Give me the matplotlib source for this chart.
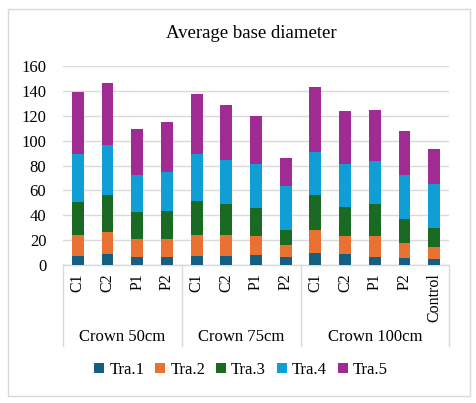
import matplotlib
matplotlib.use("Agg")
import matplotlib.pyplot as plt
import numpy as np
from matplotlib.patches import Rectangle
from matplotlib.lines import Line2D

plt.rcParams['font.family'] = ['Liberation Serif', 'DejaVu Serif']

categories = ["C1", "C2", "P1", "P2", "C1", "C2", "P1", "P2", "C1", "C2", "P1", "P2", "Control"]
groups = ["Crown 50cm", "Crown 75cm", "Crown 100cm"]
group_sizes = [4, 4, 5]
series_names = ["Tra.1", "Tra.2", "Tra.3", "Tra.4", "Tra.5"]
tra1 = [7.2, 8.8, 6.4, 6.4, 7.2, 7.2, 8.0, 6.4, 9.7, 8.8, 6.4, 5.6, 4.8]
tra2 = [16.9, 17.7, 14.5, 14.5, 16.9, 16.9, 15.3, 9.7, 18.5, 14.5, 16.9, 12.1, 9.7]
tra3 = [26.6, 29.8, 21.7, 22.5, 27.4, 25.0, 22.5, 12.1, 28.1, 23.3, 25.8, 19.3, 15.3]
tra4 = [38.6, 40.2, 29.8, 31.4, 37.8, 35.4, 35.4, 35.3, 34.6, 34.6, 34.5, 35.4, 35.3]
tra5 = [49.8, 49.9, 37.0, 40.2, 48.2, 44.2, 38.6, 22.6, 52.3, 42.7, 41.1, 35.4, 28.2]
yticks = [0, 20, 40, 60, 80, 100, 120, 140, 160]
colors = ["#156082", "#E97132", "#196B24", "#0F9ED5", "#A02B93"]

W, H = 477, 403
fig = plt.figure(figsize=(W / 100, H / 100), dpi=100)
fig.patch.set_facecolor("white")

# outer chart border
fig.add_artist(Rectangle((8 / W, 1 - 396 / H), (470 - 8) / W, (396 - 9) / H,
                         transform=fig.transFigure, fill=False, edgecolor="#d9d9d9", lw=1))

L, R, T, B = 63, 449, 66, 265
ax = fig.add_axes([L / W, 1 - B / H, (R - L) / W, (B - T) / H])
x = np.arange(len(categories))
bottom = np.zeros(len(categories))
for name, vals, c in zip(series_names, [tra1, tra2, tra3, tra4, tra5], colors):
    ax.bar(x, vals, width=0.4, bottom=bottom, color=c, label=name, zorder=3)
    bottom += np.array(vals)

ax.set_xlim(-0.5, len(categories) - 0.5)
ax.set_ylim(0, 160)
ax.set_yticks(yticks)
ax.set_yticklabels([str(v) for v in yticks], fontsize=12)
ax.tick_params(axis='y', length=0, pad=12)
ax.set_xticks([])
ax.grid(axis='y', color="#d9d9d9", lw=1, zorder=0)
for s in ["left", "right", "top"]:
    ax.spines[s].set_visible(False)
ax.spines["bottom"].set_color("#d9d9d9")
ax.spines["bottom"].set_linewidth(1)

trans = matplotlib.transforms.blended_transform_factory(ax.transData, ax.transAxes)
ph = B - T
for xi, lab in zip(x, categories):
    ax.text(xi, -8 / ph, lab, rotation=90, ha='center', va='top', fontsize=11.5, transform=trans)

bounds = [-0.5]
for gs in group_sizes:
    bounds.append(bounds[-1] + gs)
for b in bounds:
    ax.add_line(Line2D([b, b], [0, -81 / ph], transform=trans, color="#d9d9d9", lw=1, clip_on=False))
for i, g in enumerate(groups):
    cx = (bounds[i] + bounds[i + 1]) / 2
    ax.text(cx, -72 / ph, g, ha='center', va='center', fontsize=12, transform=trans)

fig.text(251 / W, 1 - 33 / H, "Average base diameter", ha='center', va='center', fontsize=13.5)

handles, labels = ax.get_legend_handles_labels()
fig.legend(handles, labels, loc='center', bbox_to_anchor=(241 / W, 1 - 370 / H), ncol=5,
           frameon=False, fontsize=12, handlelength=0.6, handleheight=0.6,
           handletextpad=0.3, columnspacing=0.65)

fig.savefig("out.png", dpi=100)
